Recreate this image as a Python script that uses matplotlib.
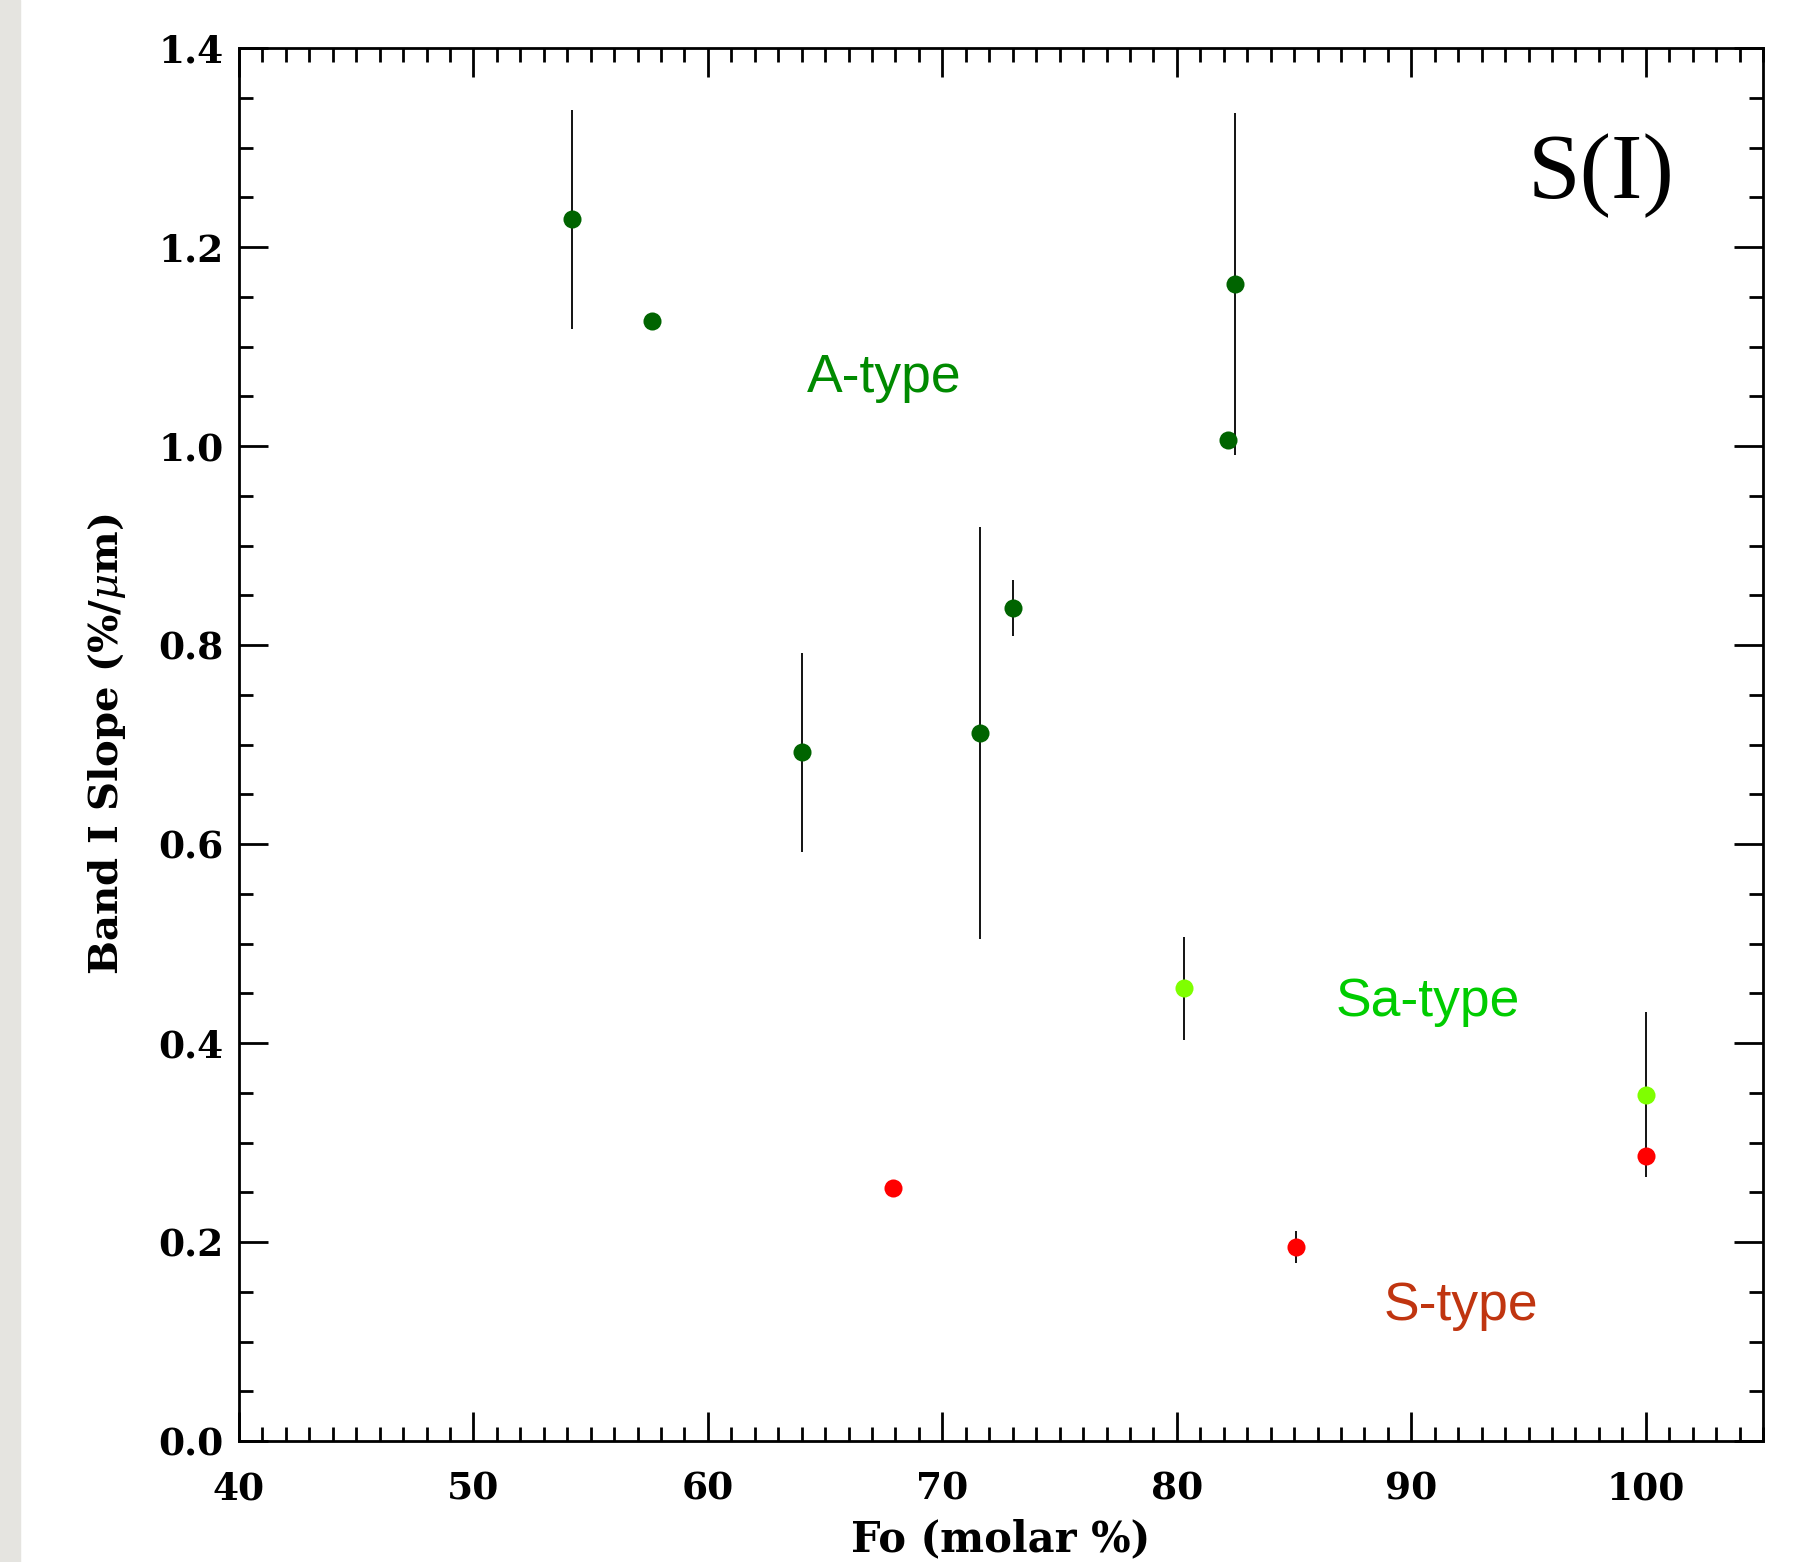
import matplotlib
matplotlib.use("Agg")
import matplotlib.pyplot as plt
from matplotlib.patches import Rectangle
from matplotlib.ticker import MultipleLocator

plt.rcParams["mathtext.fontset"] = "dejavuserif"

# olivine Fo content vs Band I slope
fo_a = [54.2, 57.6, 64.0, 71.6, 73.0, 82.2, 82.5]
slope_a = [1.228, 1.126, 0.692, 0.712, 0.837, 1.006, 1.163]
err_a = [0.110, 0.004, 0.100, 0.207, 0.028, 0.004, 0.172]

fo_sa = [80.3, 100.0]
slope_sa = [0.455, 0.348]
err_sa = [0.052, 0.083]

fo_s = [67.9, 85.1, 100.0]
slope_s = [0.254, 0.195, 0.286]
err_s = [0.004, 0.016, 0.005]

labels = ["A-type", "Sa-type", "S-type"]
label_x = [67.5, 90.7, 92.1]
label_y = [1.068, 0.441, 0.136]
label_colors = ["#008a00", "#00cc00", "#c03510"]

fig = plt.figure(figsize=(18.1, 15.62), dpi=100)
fig.patches.append(Rectangle((0, 0), 20 / 1810, 1, transform=fig.transFigure,
                             color="#e5e4e0", zorder=0))
ax = fig.add_axes([239 / 1810, 1 - 1441 / 1562, (1763 - 239) / 1810, (1441 - 48) / 1562])

groups = [(fo_a, slope_a, err_a, "#006400"),
          (fo_sa, slope_sa, err_sa, "#7fff00"),
          (fo_s, slope_s, err_s, "#ff0000")]
for x, y, e, c in groups:
    ax.errorbar(x, y, yerr=e, fmt="none", ecolor="black", elinewidth=1.3, capsize=0, zorder=2)
    ax.plot(x, y, "o", color=c, markersize=13, markeredgewidth=0, zorder=3)

for t, x, y, c in zip(labels, label_x, label_y, label_colors):
    ax.text(x, y, t, color=c, fontsize=38.5, family="Liberation Sans", ha="center", va="center")

ax.text(98.1, 1.272, "S(I)", fontsize=68, family="Liberation Serif", ha="center", va="center")

ax.set_xlim(40, 105)
ax.set_ylim(0, 1.4)
ax.xaxis.set_major_locator(MultipleLocator(10))
ax.xaxis.set_minor_locator(MultipleLocator(1))
ax.yaxis.set_major_locator(MultipleLocator(0.2))
ax.yaxis.set_minor_locator(MultipleLocator(0.05))
ax.set_xticks([40, 50, 60, 70, 80, 90, 100])
ax.set_xticklabels(["40", "50", "60", "70", "80", "90", "100"])
ax.set_yticklabels(["%.1f" % v for v in ax.get_yticks()])

ax.tick_params(which="both", direction="in", top=True, right=True, width=2, color="black")
ax.tick_params(which="major", length=21, labelsize=27)
ax.tick_params(which="minor", length=10)
ax.xaxis.set_tick_params(which="major", pad=21)
ax.yaxis.set_tick_params(which="major", pad=11)
for lab in ax.get_xticklabels() + ax.get_yticklabels():
    lab.set_family("DejaVu Serif")
    lab.set_fontweight("bold")
for s in ax.spines.values():
    s.set_linewidth(2)

ax.set_xlabel("Fo (molar %)", fontsize=30, family="DejaVu Serif", fontweight="bold", labelpad=8)
ax.set_ylabel("Band I Slope (%/$\\mu$m)", fontsize=29, family="DejaVu Serif", fontweight="bold",
              labelpad=22)

fig.savefig("out.png", dpi=100)
